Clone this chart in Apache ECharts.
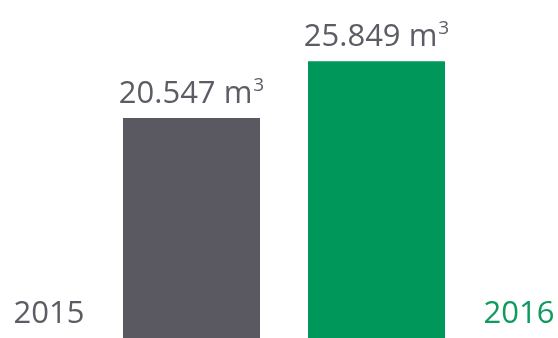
<!DOCTYPE html>
<html>
<head>
<meta charset="utf-8">
<script src="https://cdn.jsdelivr.net/npm/echarts@6/dist/echarts.min.js"></script>
<style>
  html, body { margin: 0; padding: 0; background: #ffffff; }
  #bar-chart { width: 558px; height: 338px; }
</style>
</head>
<body>
<div id="bar-chart"></div>
<script>
// data
const years = ['2015', '2016']
const volumes = [20547, 25849]
const valueLabels = ['20.547', '25.849']
const unit = 'm'

const gray = '#5a5961'
const green = '#00975a'
const barColors = [gray, green]
const yearColors = ['#5c5c65', '#0f9a5e']

let chart = echarts.init(document.getElementById('bar-chart'))

const option = {
  animation: false,
  grid: { left: 99, right: 89, top: 0, bottom: 0 },
  xAxis: {
    type: 'category',
    data: years.map((y, i) => ({
      value: y,
      textStyle: i === 0
        ? { color: yearColors[0], align: 'right', padding: [0, 107, 0, 0] }
        : { color: yearColors[1], align: 'left', padding: [0, 0, 0, 107] }
    })),
    axisLine: { show: false },
    axisTick: { show: false },
    axisLabel: {
      inside: true,
      margin: 8,
      fontSize: 31,
      fontFamily: 'Open Sans',
      interval: 0
    }
  },
  yAxis: {
    type: 'value',
    min: 0,
    max: 31570,
    show: false,
    splitLine: { show: false }
  },
  series: [
    {
      type: 'bar',
      barWidth: 137,
      data: volumes.map((v, i) => ({
        value: v,
        itemStyle: { color: barColors[i] },
        label: { formatter: '{a|' + valueLabels[i] + ' ' + unit + '}{s|3}' }
      })),
      label: {
        show: true,
        position: 'top',
        distance: 6,
        color: '#5c5c65',
        rich: {
          a: { fontSize: 31, fontFamily: 'Open Sans', color: '#5c5c65', lineHeight: 36 },
          s: { fontSize: 19, fontFamily: 'Open Sans', color: '#5c5c65', verticalAlign: 'top', lineHeight: 36, padding: [0, 0, 0, 1] }
        }
      }
    }
  ]
}

chart.setOption(option)
</script>
</body>
</html>
